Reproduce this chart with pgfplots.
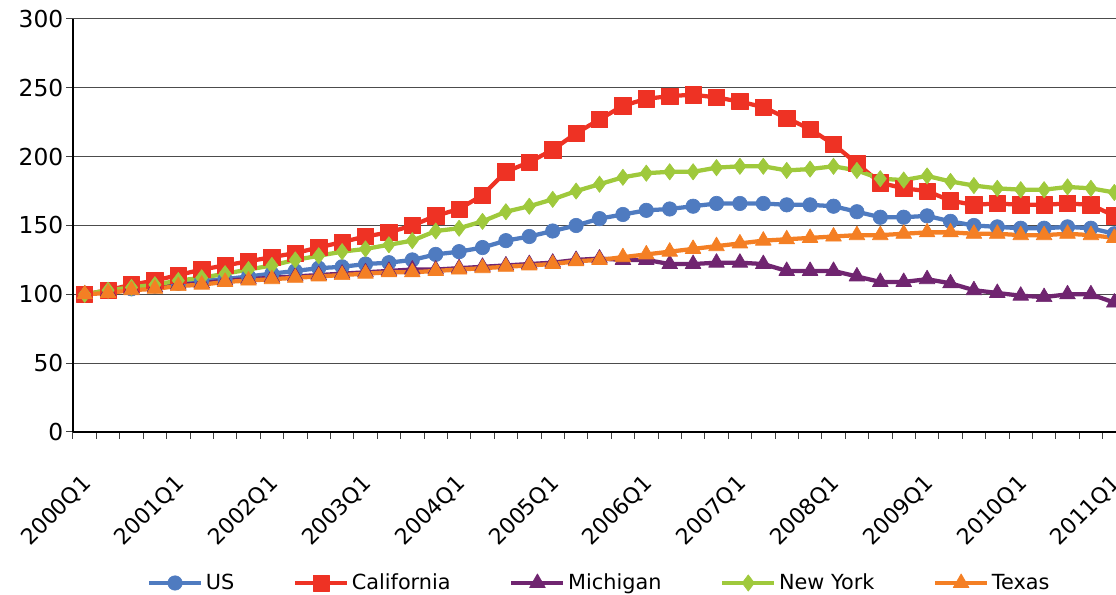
\documentclass[border=0pt]{standalone}
\usepackage{fontspec}
\setmainfont{DejaVu Sans}
\usepackage{pgfplots}
\usepackage{pgfplotstable}
\pgfplotsset{compat=1.18}
\definecolor{cUS}{HTML}{4F7BC0}
\definecolor{cCA}{HTML}{EE3224}
\definecolor{cMI}{HTML}{702570}
\definecolor{cNY}{HTML}{9FC93C}
\definecolor{cTX}{HTML}{F47F24}
\pgfplotstableread{
x US CA MI NY TX
0 100 100 100 100 100
1 102 103 102 103 101
2 104 107 104 105 103
3 106 110 105 107 104
4 108 114 107 110 106
5 110 118 108 112 107
6 111 121 110 115 109
7 113 124 111 118 110
8 115 127 112 121 111
9 117 130 113 125 112
10 119 134 114 128 113
11 120 138 115 131 114
12 122 142 116 133 115
13 123 145 117 136 116
14 125 150 118 139 116
15 129 157 118 146 117
16 131 162 119 148 118
17 134 172 120 153 119
18 139 189 121 160 120
19 142 196 122 164 121
20 146 205 123 169 122
21 150 217 125 175 124
22 155 227 126 180 125
23 158 237 125 185 127
24 161 242 125 188 129
25 162 244 122 189 131
26 164 245 122 189 133
27 166 243 123 192 135
28 166 240 123 193 137
29 166 236 122 193 139
30 165 228 117 190 140
31 165 220 117 191 141
32 164 209 117 193 142
33 160 195 113 190 143
34 156 181 109 184 143
35 156 177 109 183 144
36 157 175 111 186 145
37 153 168 108 182 145
38 150 165 103 179 144
39 149 166 101 177 144
40 148 165 99 176 143
41 148 165 98 176 143
42 149 166 100 178 144
43 148 165 100 177 143
44 144 157 94 174 141
}\data
\begin{document}
\begin{tikzpicture}
\begin{axis}[name=ax,
  width=789.75pt, height=309.75pt, scale only axis,
  xmin=-0.5, xmax=44.5, ymin=0, ymax=300,
  axis x line=bottom, axis y line=left,
  axis line style={-, line width=1.1pt, black},
  ytick={0,50,...,300},
  ymajorgrids, grid style={black!70, line width=0.75pt},
  xtick={0,4,...,44},
  xticklabels={2000Q1,2001Q1,2002Q1,2003Q1,2004Q1,2005Q1,2006Q1,2007Q1,2008Q1,2009Q1,2010Q1,2011Q1},
  minor xtick={-0.5,0.5,...,44.5},
  every major x tick/.append style={draw=none},
  tick align=outside, major tick length=5pt, minor tick length=5pt,
  tick style={black!75, line width=0.75pt},
  /pgf/number format/assume math mode=true,
  xticklabel style={font=\fontsize{16.5}{19}\selectfont, yshift=-31pt, xshift=2pt, rotate=45, anchor=east, inner sep=0pt},
  yticklabel style={font=\fontsize{17.5}{20}\selectfont, xshift=1.2pt},
  legend style={at={(0.5,-0.3656)}, anchor=center, draw=none, fill=none,
    font=\fontsize{15.6}{18}\selectfont,
    /tikz/every even column/.append style={column sep=42pt}},
  legend columns=5,
  legend image code/.code={\draw[mark repeat=2,mark phase=2,#1] plot coordinates {(0pt,0pt) (19.5pt,0pt) (39pt,0pt)};},
  every axis plot/.append style={line width=3.2pt, line join=round},
]
\addplot[color=cUS, mark=*, mark size=5.4pt, mark options={solid, line width=0.5pt}] table[x=x, y=US] {\data};
\addlegendentry{US}
\addplot[color=cCA, mark=square*, mark size=6.1pt, mark options={solid, line width=0.5pt}] table[x=x, y=CA] {\data};
\addlegendentry{California}
\addplot[color=cMI, mark=triangle*, mark size=6.8pt, mark options={solid, line width=0.5pt}] table[x=x, y=MI] {\data};
\addlegendentry{Michigan}
\addplot[color=cNY, mark=diamond*, mark size=6.1pt, mark options={solid, line width=0.5pt}] table[x=x, y=NY] {\data};
\addlegendentry{New York}
\addplot[color=cTX, mark=triangle*, mark size=6.8pt, mark options={solid, line width=0.5pt}] table[x=x, y=TX] {\data};
\addlegendentry{Texas}
\end{axis}
\pgfresetboundingbox
\path[use as bounding box] (ax.south west) ++(-54.75pt,-122.25pt) rectangle ++(837pt,446.25pt);
\end{tikzpicture}
\end{document}
